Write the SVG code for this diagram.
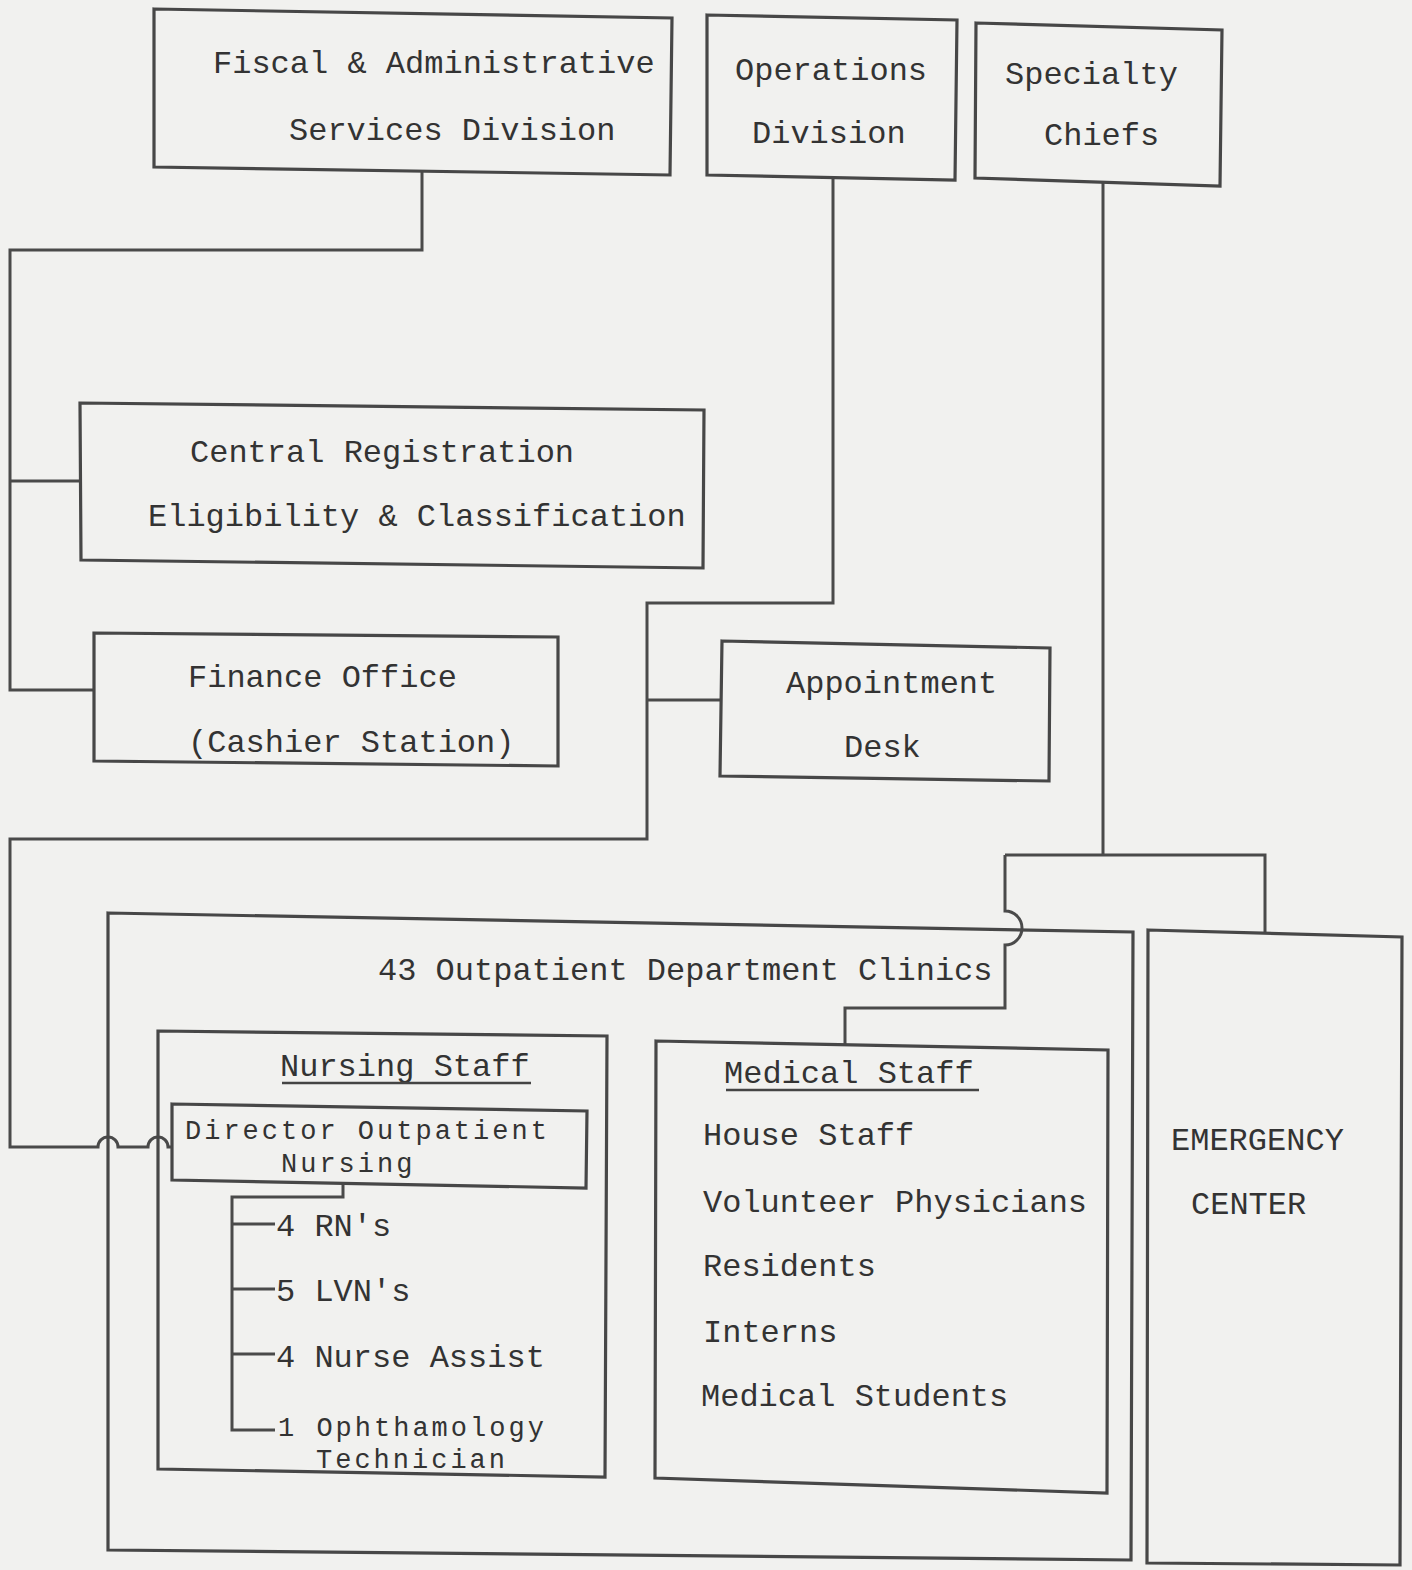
<svg xmlns="http://www.w3.org/2000/svg" width="1412" height="1570" viewBox="0 0 1412 1570">
<style>
.bg{fill:#f1f1ef}
.box{fill:none;stroke:#474747;stroke-width:3.2;stroke-linejoin:miter}
.con{fill:none;stroke:#4a4a4a;stroke-width:3}
.t{font-family:"Liberation Mono","Courier New",monospace;font-size:32px;fill:#333}
.s{font-size:27px;letter-spacing:3px}
.u{stroke:#444;stroke-width:2.5}
</style>
<rect class="bg" x="0" y="0" width="1412" height="1570"/>
<g id="connectors">
<path class="con" d="M422,171 V250 H10 V690 H94 M10,481 H80"/>
<path class="con" d="M833,178 V603 H647 V839 H10 V1147 H98 a10,10 0 0 1 20,0 H148 a10,10 0 0 1 20,0 H172 M647,700 H720"/>
<path class="con" d="M1103,183 V855 M1005,855 H1265 V934 M1005,855 V911 a17,17 0 0 1 0,34 V1008 H845 V1045"/>
<path class="con" d="M343,1184 V1197 H232 V1430 H275 M232,1224 H275 M232,1289 H275 M232,1354 H275"/>
</g>
<g id="fiscal">
<polygon class="box" points="154,9 672,18 670,175 154,167"/>
<text class="t" x="213" y="73">Fiscal &amp; Administrative</text>
<text class="t" x="289" y="140">Services Division</text>
</g>
<g id="operations">
<polygon class="box" points="707,15 957,20 955,180 707,175"/>
<text class="t" x="735" y="80">Operations</text>
<text class="t" x="752" y="143">Division</text>
</g>
<g id="specialty">
<polygon class="box" points="976,23 1222,30 1220,186 975,178"/>
<text class="t" x="1005" y="84">Specialty</text>
<text class="t" x="1044" y="145">Chiefs</text>
</g>
<g id="central-registration">
<polygon class="box" points="80,403 704,410 703,568 81,560"/>
<text class="t" x="190" y="462">Central Registration</text>
<text class="t" x="148" y="526">Eligibility &amp; Classification</text>
</g>
<g id="finance">
<polygon class="box" points="94,633 558,637 558,766 94,761"/>
<text class="t" x="188" y="687">Finance Office</text>
<text class="t" x="188" y="752">(Cashier Station)</text>
</g>
<g id="appointment">
<polygon class="box" points="722,641 1050,648 1049,781 720,776"/>
<text class="t" x="786" y="693">Appointment</text>
<text class="t" x="844" y="757">Desk</text>
</g>
<g id="outpatient">
<polygon class="box" points="108,913 1133,932 1131,1560 108,1550"/>
<text class="t" x="378" y="980">43 Outpatient Department Clinics</text>
</g>
<g id="emergency">
<polygon class="box" points="1148,930 1402,937 1400,1565 1147,1563"/>
<text class="t" x="1171" y="1150">EMERGENCY</text>
<text class="t" x="1191" y="1214">CENTER</text>
</g>
<g id="nursing-staff">
<polygon class="box" points="158,1031 607,1036 605,1477 158,1469"/>
<text class="t" x="280" y="1076">Nursing Staff</text>
<line class="u" x1="282" y1="1083" x2="531" y2="1083"/>
</g>
<g id="director">
<polygon class="box" points="172,1104 587,1111 586,1188 172,1180"/>
<text class="t s" x="185" y="1139">Director Outpatient</text>
<text class="t s" x="281" y="1172">Nursing</text>
</g>
<g id="nursing-items">
<text class="t" x="276" y="1236">4 RN's</text>
<text class="t" x="276" y="1301">5 LVN's</text>
<text class="t" x="276" y="1367">4 Nurse Assist</text>
<text class="t s" x="278" y="1436">1 Ophthamology</text>
<text class="t s" x="316" y="1468">Technician</text>
</g>
<g id="medical-staff">
<polygon class="box" points="656,1041 1108,1050 1107,1493 655,1478"/>
<text class="t" x="724" y="1083">Medical Staff</text>
<line class="u" x1="726" y1="1090" x2="979" y2="1090"/>
<text class="t" x="703" y="1145">House Staff</text>
<text class="t" x="703" y="1212">Volunteer Physicians</text>
<text class="t" x="703" y="1276">Residents</text>
<text class="t" x="703" y="1342">Interns</text>
<text class="t" x="701" y="1406">Medical Students</text>
</g>
</svg>
